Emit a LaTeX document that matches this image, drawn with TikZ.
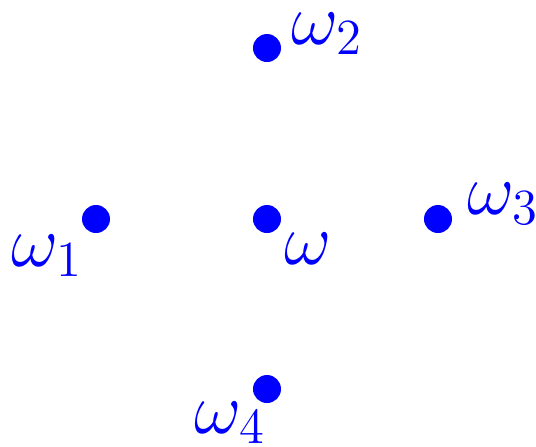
\documentclass[tikz,border=0pt]{standalone}
\usepackage{amsmath,amssymb}
\usepackage{tikz}
\usetikzlibrary{positioning}

\begin{document}
\begin{tikzpicture}[
    pt/.style={circle, fill=blue, inner sep=0pt, minimum size=0.28cm},
    lbl/.style={anchor=base west, inner sep=0pt, text=blue, font=\fontsize{20}{22}\selectfont}
]
\useasboundingbox (0,0) rectangle (5.36,-4.46);

\node[pt] (w)  at (2.67,-2.19) {};
\node[pt] (w1) at (0.96,-2.19) {};
\node[pt] (w2) at (2.67,-0.48) {};
\node[pt] (w3) at (4.38,-2.19) {};
\node[pt] (w4) at (2.67,-3.89) {};

\node[lbl] (lw)  at (2.84,-2.64) {$\omega$};
\node[lbl] (lw1) at (0.11,-2.66) {$\omega_1$};
\node[lbl] (lw2) at (2.91,-0.44) {$\omega_2$};
\node[lbl] (lw3) at (4.67,-2.14) {$\omega_3$};
\node[lbl] (lw4) at (1.94,-4.33) {$\omega_4$};

\end{tikzpicture}
\end{document}
